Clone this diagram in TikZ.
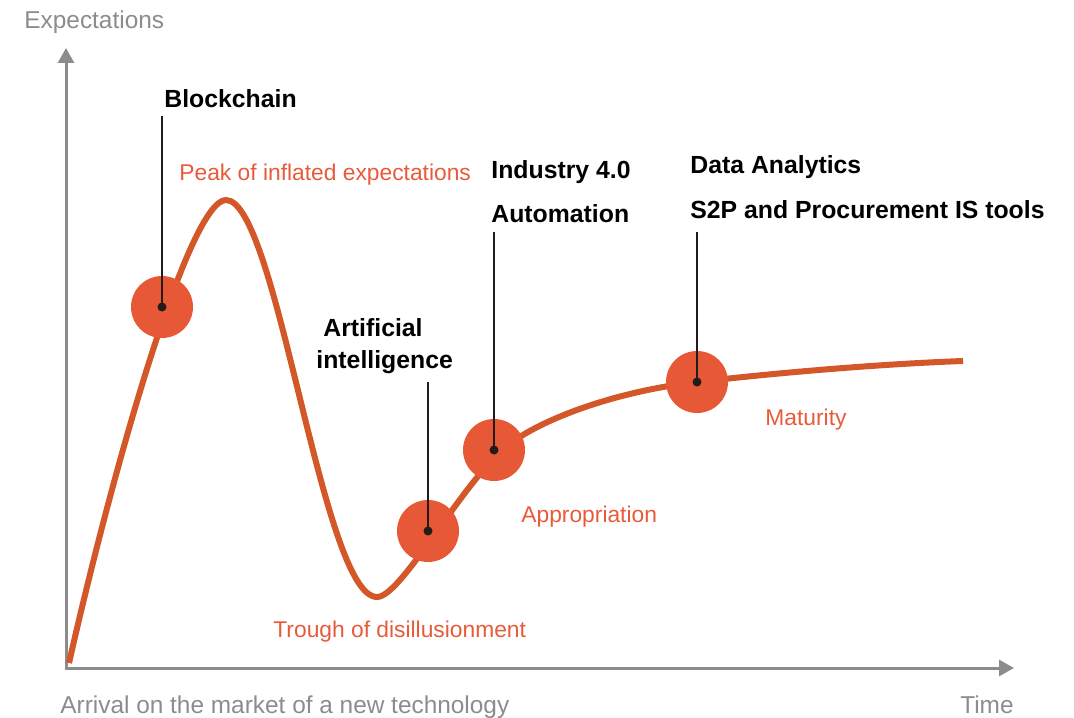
\documentclass[tikz,border=0pt]{standalone}
\usepackage{fontspec}
\setmainfont{Liberation Sans}
\usetikzlibrary{arrows.meta}
\definecolor{axisgray}{RGB}{140,140,140}
\definecolor{hypeorange}{RGB}{211,87,40}
\definecolor{dotorange}{RGB}{231,89,54}
\definecolor{phaseorange}{RGB}{232,90,58}
\definecolor{pinblack}{RGB}{35,26,26}
\begin{document}
\begin{tikzpicture}[x=0.5pt, y=-0.5pt,
  axis/.style={draw=axisgray, line width=1.5pt, {Triangle[length=7.5pt,width=8pt]}-{Triangle[length=7.5pt,width=8pt]}},
  axislabel/.style={text=axisgray, font=\fontsize{12.2}{14}\selectfont, inner sep=0pt},
  phase/.style={text=phaseorange, font=\fontsize{11.4}{14}\selectfont, inner sep=0pt, anchor=base west},
  tech/.style={font=\bfseries\fontsize{12.4}{15}\selectfont, inner sep=0pt, anchor=base west},
  hotspot/.style={circle, fill=dotorange, minimum size=31pt, inner sep=0pt},
  pin/.style={draw=pinblack, line width=1pt},
  pinhead/.style={circle, fill=pinblack, minimum size=4.5pt, inner sep=0pt}]
% Page size in pixels of the reference
\useasboundingbox (0,0) rectangle (1074,717);

% Draw the axes
\coordinate (ytop) at (66,48);
\coordinate (origin) at (66,668);
\coordinate (xtip) at (1014,668);
\draw[axis] (ytop) -- (origin) -- (xtip);
\node[axislabel, anchor=base west] (lblExp) at (24,29) {Expectations};
\node[axislabel, anchor=base west] (lblArrival) at (60,713) {Arrival on the market of a new technology};
\node[axislabel, anchor=base east] (lblTime) at (1014,713) {Time};

% The hype curve
\draw[hypeorange, line width=3pt] (69,663)
  .. controls (115,460) and (190,200) .. (226,200)
  .. controls (277,200) and (322,597) .. (377,597)
  .. controls (400,597) and (455,495) .. (500,452)
  .. controls (530,423) and (610,392) .. (697,382)
  .. controls (780,372.5) and (880,364) .. (963,361);

% Phase names
\node[phase] (lblPeak) at (179,180) {Peak of inflated expectations};
\node[phase] (lblTrough) at (273,637) {Trough of disillusionment};
\node[phase] (lblAppr) at (521,522) {Appropriation};
\node[phase] (lblMat) at (765,425) {Maturity};

% Technologies on the curve
\node[hotspot] (dotBlock) at (162,307) {};
\node[hotspot] (dotAI) at (428,531) {};
\node[hotspot] (dotInd) at (494,450) {};
\node[hotspot] (dotData) at (697,382) {};

\node[tech] (lblBlock) at (164,107) {Blockchain};
\node[tech] (lblAI) at (323,336) {Artificial};
\node[tech] (lblAIb) at (316,368) {intelligence};
\node[tech] (lblInd) at (491,178) {Industry 4.0};
\node[tech] (lblAuto) at (491,222) {Automation};
\node[tech] (lblData) at (690,173) {Data Analytics};
\node[tech] (lblS2P) at (690,218) {S2P and Procurement IS tools};

\coordinate (topBlock) at (162,116);
\coordinate (topAI) at (428,382);
\coordinate (topInd) at (494,232);
\coordinate (topData) at (697,232);
\draw[pin] (topBlock) -- (dotBlock.center);
\draw[pin] (topAI) -- (dotAI.center);
\draw[pin] (topInd) -- (dotInd.center);
\draw[pin] (topData) -- (dotData.center);
\node[pinhead] (headBlock) at (dotBlock.center) {};
\node[pinhead] (headAI) at (dotAI.center) {};
\node[pinhead] (headInd) at (dotInd.center) {};
\node[pinhead] (headData) at (dotData.center) {};
\end{tikzpicture}
\end{document}
